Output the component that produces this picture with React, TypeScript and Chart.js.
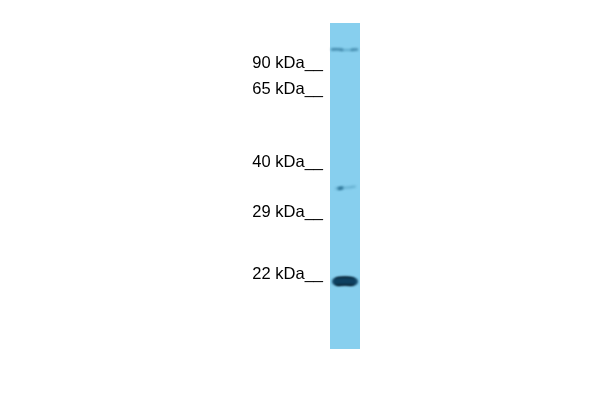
import React, { useEffect, useRef } from "react";
import { Chart, registerables } from "chart.js";

Chart.register(...registerables);

// Migration positions on the blot (top of gel = small values)
const laneCentre = [{ x: 0, y: 23 }, { x: 0, y: 349 }];
const markerLabels = ["90 kDa__", "65 kDa__", "40 kDa__", "29 kDa__", "22 kDa__"];
const markerPositions = [63, 89, 162, 212, 274];

// Bands: offset across the lane (x), migration position (y)
const topBandLeft = [{ x: -13, y: 49.5 }, { x: -8, y: 49.3 }, { x: -3, y: 49.8 }];
const topBandMid = [{ x: -3, y: 50 }, { x: 7, y: 50 }];
const topBandRight = [{ x: 7, y: 49.8 }, { x: 12, y: 49.5 }];
const midBandFaint = [{ x: -9, y: 188.5 }, { x: 3, y: 187.5 }, { x: 10, y: 186.5 }];
const midBandCore = [{ x: -6, y: 188.5 }, { x: -3, y: 188 }];
const mainHalo = [{ x: -10, y: 281.5 }, { x: 0, y: 281 }, { x: 10, y: 281.5 }];
const mainBody = [{ x: -7, y: 281.5 }, { x: 0, y: 281 }, { x: 7, y: 281.5 }];
const mainCore = [{ x: -6, y: 281.5 }, { x: 0, y: 281 }, { x: 5, y: 281.5 }];

const line = (data: { x: number; y: number }[], color: string, width: number, blur: number, order = 1, cap = "round") => ({
  type: "line" as const,
  data,
  borderColor: color,
  borderWidth: width,
  borderCapStyle: cap,
  pointRadius: 0,
  tension: 0.3,
  order,
  blur,
  clip: false,
});

const blurPlugin = {
  id: "bandBlur",
  beforeDatasetDraw(chart: any, args: any) {
    const b = chart.data.datasets[args.index].blur;
    if (b) {
      chart.ctx.save();
      chart.ctx.filter = `blur(${b}px)`;
    }
  },
  afterDatasetDraw(chart: any, args: any) {
    if (chart.data.datasets[args.index].blur) chart.ctx.restore();
  },
};

export default function App() {
  const ref = useRef<HTMLCanvasElement>(null);
  useEffect(() => {
    const chart = new Chart(ref.current!, {
      type: "line",
      plugins: [blurPlugin],
      data: {
        datasets: [
          line(laneCentre, "#87cfee", 30, 0, 10, "butt"),
          line(midBandFaint, "rgba(70,145,180,0.5)", 2.2, 1),
          line(midBandCore, "rgba(20,90,125,0.9)", 2.8, 1),
          line(topBandLeft, "rgba(50,120,155,0.8)", 2.6, 0.9),
          line(topBandMid, "rgba(60,135,170,0.5)", 2.2, 0.9),
          line(topBandRight, "rgba(50,120,155,0.75)", 2.6, 0.9),
          line(mainHalo, "rgba(15,70,105,0.8)", 6, 1.2),
          line(mainBody, "#0a2a3f", 9, 1.2),
          line(mainCore, "#010a12", 7.5, 0.8),
        ] as any,
      },
      options: {
        animation: false,
        responsive: false,
        layout: { padding: { top: 23, bottom: 51, left: 0, right: 240 } },
        plugins: { legend: { display: false }, tooltip: { enabled: false } },
        scales: {
          x: { type: "linear", display: false, min: -15, max: 15 },
          y: {
            type: "linear",
            reverse: true,
            min: laneCentre[0].y,
            max: laneCentre[1].y,
            border: { display: false },
            grid: { display: false, drawTicks: false },
            afterFit(scale: any) {
              scale.width = 330;
            },
            afterBuildTicks(scale: any) {
              scale.ticks = markerPositions.map((value) => ({ value }));
            },
            ticks: {
              autoSkip: false,
              padding: 7,
              color: "#000",
              font: { family: "'Liberation Sans'", size: 16.5 },
              callback: (value: any) => markerLabels[markerPositions.indexOf(Number(value))],
            },
          },
        },
      } as any,
    });
    return () => chart.destroy();
  }, []);
  return (
    <canvas
      ref={ref}
      width={600}
      height={400}
      style={{ position: "absolute", left: 0, top: 0, width: 600, height: 400 }}
    />
  );
}
